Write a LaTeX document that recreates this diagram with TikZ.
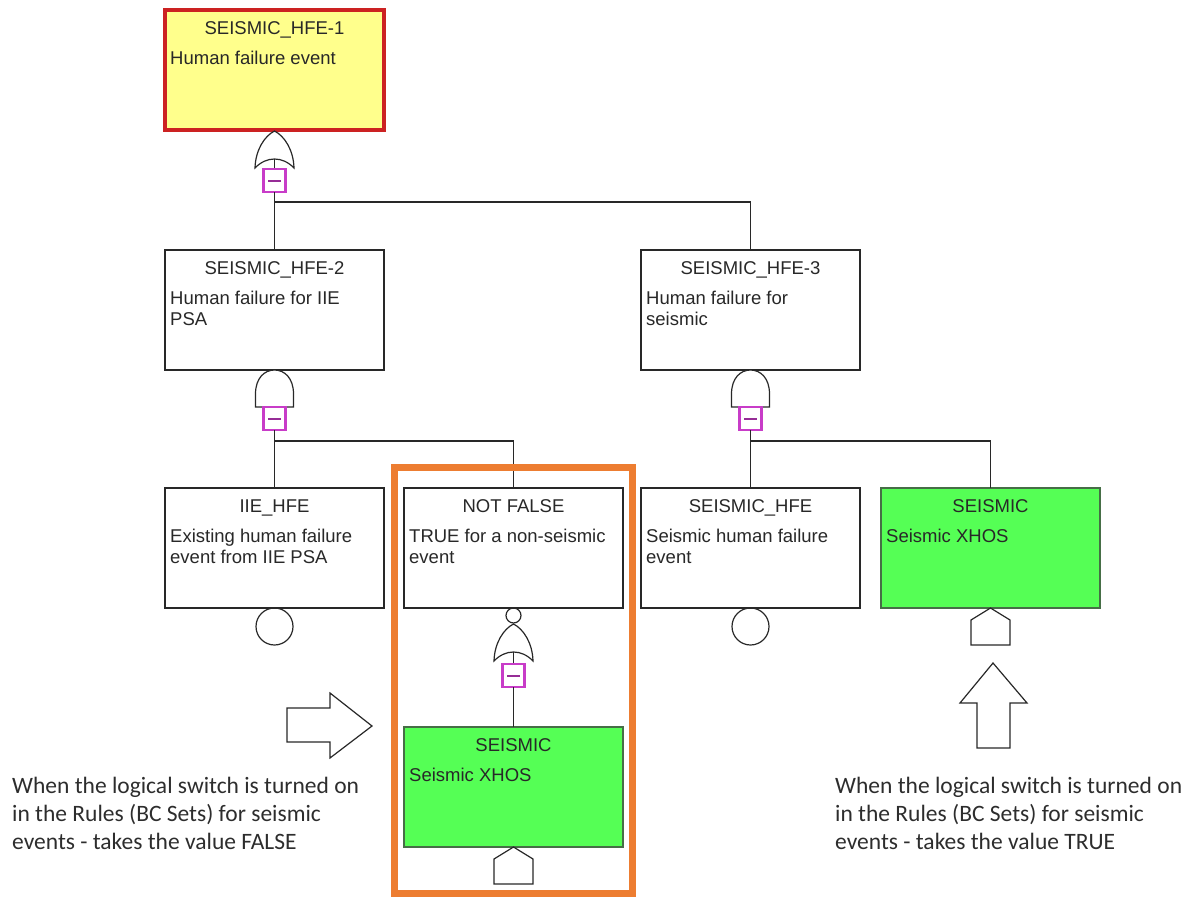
\documentclass[tikz,border=0pt]{standalone}
\usepackage{fontspec}
\setmainfont{Liberation Sans}
\newfontfamily\notefont{Carlito}
\usetikzlibrary{positioning}

\definecolor{hfeyellow}{RGB}{255,255,140}
\definecolor{hfered}{RGB}{204,34,34}
\definecolor{xgreen}{RGB}{85,255,85}
\definecolor{greenline}{RGB}{70,110,70}
\definecolor{flagmag}{RGB}{200,60,200}
\definecolor{switchorange}{RGB}{237,125,49}
\definecolor{linec}{RGB}{40,40,40}
\definecolor{notegray}{RGB}{45,45,45}

\tikzset{
  gate/.style={draw=linec, line width=1.2pt, fill=white},
  orgate/.pic={
    \draw[gate] (-19.5,38) .. controls (-19,20) and (-10,6) .. (0,1)
      .. controls (10,6) and (19,20) .. (19.5,38)
      .. controls (8,26) and (-8,26) .. cycle;
    \draw[linec, line width=1.2pt] (0,29) -- (0,42);
  },
  andgate/.pic={
    \draw[gate] (-19,37) -- (-19,24) .. controls (-19,8) and (-10,0) .. (0,0)
      .. controls (10,0) and (19,8) .. (19,24) -- (19,37) -- cycle;
  },
  house/.pic={
    \draw[gate] (0,0) -- (19.5,12) -- (19.5,37) -- (-19.5,37) -- (-19.5,12) -- cycle;
  }
}

\begin{document}
\begin{tikzpicture}[
  x=1pt, y=-1pt,
  box/.style={draw=linec, line width=1.3pt, fill=white, minimum width=219pt,
    minimum height=120pt, inner sep=0pt, outer sep=0pt},
  boxtitle/.style={font=\fontsize{18.5}{21}\selectfont, text=linec, inner sep=0pt},
  boxdesc/.style={font=\fontsize{18.5}{21}\selectfont, text=linec, inner sep=0pt, align=left},
  flag/.style={draw=flagmag, line width=2.2pt, fill=white, minimum width=22pt,
    minimum height=23pt, inner sep=0pt, outer sep=0pt,
    path picture={\draw[flagmag!75!black, line width=2pt]
      ([xshift=-6.5pt]path picture bounding box.center) --
      ([xshift=6.5pt]path picture bounding box.center);}},
  basic/.style={draw=linec, line width=1.2pt, circle, minimum size=37pt,
    inner sep=0pt, outer sep=0pt},
  notc/.style={basic, minimum size=15pt},
  wire/.style={draw=linec, line width=1.2pt},
  blockarrow/.style={draw=linec, line width=1.2pt, fill=white, line join=miter},
  note/.style={font=\notefont\fontsize{23.5}{28}\selectfont, text=notegray,
    align=left, inner sep=0pt}
]
\useasboundingbox (0,0) rectangle (1194,897);

% events
\node[box, fill=hfeyellow, draw=hfered, line width=3.5pt] (hfe1) at (274.5,70) {};
\node[box, below=120pt of hfe1] (hfe2) {};
\node[box, right=257pt of hfe2] (hfe3) {};
\node[box, below=118pt of hfe2] (iie) {};
\node[box, right=20pt of iie] (notf) {};
\node[box, right=18pt of notf] (shfe) {};
\node[box, fill=xgreen, draw=greenline, right=21pt of shfe] (seis) {};
\node[box, fill=xgreen, draw=greenline, below=119pt of notf] (seis2) {};

% last line baseline of the description, from the box top
\foreach \b/\t/\d/\y in {
  hfe1/SEISMIC\_HFE-1/{Human failure event}/54,
  hfe2/SEISMIC\_HFE-2/{Human failure for IIE\\PSA}/75,
  hfe3/SEISMIC\_HFE-3/{Human failure for\\seismic}/75,
  iie/IIE\_HFE/{Existing human failure\\event from IIE PSA}/75,
  notf/NOT FALSE/{TRUE for a non-seismic\\event}/75,
  shfe/SEISMIC\_HFE/{Seismic human failure\\event}/75,
  seis/SEISMIC/{Seismic XHOS}/54,
  seis2/SEISMIC/{Seismic XHOS}/54}{
  \node[boxtitle, anchor=base] (\b-t) at ([yshift=-24pt]\b.north) {\t};
  \node[boxdesc, anchor=base west] (\b-d) at ([shift={(5pt,-\y pt)}]\b.north west) {\d};
}

% gates
\pic at (hfe1.south) {orgate};
\pic at (hfe2.south) {andgate};
\pic at (hfe3.south) {andgate};
\node[notc, below=0pt of notf] (notf-c) {};
\pic at (notf-c.south) {orgate};

\node[flag, below=39pt of hfe1] (g1) {};
\node[flag, below=37pt of hfe2] (g2) {};
\node[flag, below=37pt of hfe3] (g3) {};
\node[flag, below=41pt of notf-c] (g4) {};

\coordinate[below=10pt of g1] (j1);
\coordinate[below=11pt of g2] (j2);
\coordinate[below=11pt of g3] (j3);

\draw[wire] (g1.south) -- (hfe2.north);
\draw[wire] (j1) -| (hfe3.north);
\draw[wire] (g2.south) -- (iie.north);
\draw[wire] (j2) -| (notf.north);
\draw[wire] (g3.south) -- (shfe.north);
\draw[wire] (j3) -| (seis.north);
\draw[wire] (g4.south) -- (seis2.north);

% basic and house events
\node[basic, below=0pt of iie] (iie-c) {};
\node[basic, below=0pt of shfe] (shfe-c) {};
\pic at (seis.south) {house};
\pic at (seis2.south) {house};

% logical switch
\draw[switchorange, line width=7pt] (394,467) rectangle (632,893);

\draw[blockarrow] (287,708) -- (330,708) -- (330,693) -- (372,726) -- (330,758)
  -- (330,742) -- (287,742) -- cycle;
\draw[blockarrow] (977,748) -- (977,703) -- (960,703) -- (993,663) -- (1027,703)
  -- (1010,703) -- (1010,748) -- cycle;

\node[note, anchor=base west] (note-l) at (12,849)
  {When the logical switch is turned on\\in the Rules (BC Sets) for seismic\\events - takes the value FALSE};
\node[note, anchor=base west] (note-r) at (835,849)
  {When the logical switch is turned on\\in the Rules (BC Sets) for seismic\\events - takes the value TRUE};
\end{tikzpicture}
\end{document}
